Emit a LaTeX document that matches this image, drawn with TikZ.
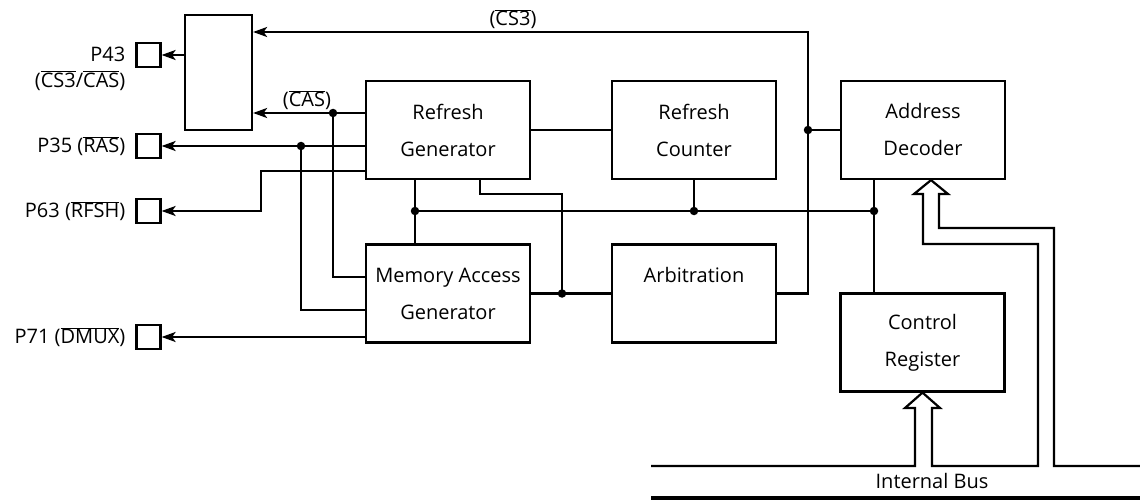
\documentclass[tikz,border=0pt]{standalone}
\usepackage{fontspec}
\setmainfont{Open Sans}
\usetikzlibrary{arrows.meta}
\newcommand{\barsig}[1]{$\overline{\mbox{#1}}$}

\begin{document}
\begin{tikzpicture}[x=1pt,y=-1pt,>={Stealth[length=14pt,width=10pt,inset=3.5pt]},line width=2.2pt,
  blk/.style={draw,minimum width=164pt,minimum height=98pt,align=center,inner sep=0pt,font=\fontsize{20}{37}\selectfont},
  pin/.style={draw,minimum size=24pt,inner sep=0pt},
  lbl/.style={inner sep=0pt,font=\fontsize{20}{26}\selectfont},
  dot/.style={circle,fill,inner sep=0pt,minimum size=8.5pt}]
\useasboundingbox (0,0) rectangle (1140,500);
\node[draw,minimum width=67pt,minimum height=115pt] (mux) at (218.5,72.5) {};
\node[blk] (rg) at (448,130) {Refresh\\Generator};
\node[blk] (rc) at (694,130) {Refresh\\Counter};
\node[blk] (ad) at (923,130) {Address\\Decoder};
\node[blk] (mag) at (448,293.5) {Memory Access\\Generator};
\node[blk] (arb) at (694,293.5) {Arbitration\\~};
\node[blk] (cr) at (922.5,342.5) {Control\\Register};
\node[pin] (p43) at (148.5,55) {}; \node[pin] (p35) at (148.5,146) {};
\node[pin] (p63) at (148.5,211) {}; \node[pin] (p71) at (148.5,337) {};
\node[lbl,align=right,anchor=north east] (l43) at ([xshift=-9pt,yshift=9pt]p43.west) {P43\\(\barsig{CS3}/\barsig{CAS})};
\node[lbl,anchor=east] (l35) at ([xshift=-9pt]p35.west) {P35 (\barsig{RAS})};
\node[lbl,anchor=east] (l63) at ([xshift=-9pt]p63.west) {P63 (\barsig{RFSH})};
\node[lbl,anchor=east] (l71) at ([xshift=-9pt]p71.west) {P71 (\barsig{DMUX})};
\coordinate (cstop) at (808,32); \coordinate (jcs) at (808,130);
\coordinate (jcas) at (333,113); \coordinate (jras) at (301,146);
\coordinate (brf) at (261,171); \coordinate (brg) at (480,194);
\coordinate (jrf) at (415,211); \coordinate (jrc) at (694,211);
\coordinate (jcr) at (874,211); \coordinate (jarb) at (562,293.5);
\draw[->] (arb.east) -| (cstop) -- (mux.east |- cstop);
\node[lbl] (lcs) at (513,19) {(\barsig{CS3})};
\draw (jcs) -- (ad.west);
\draw[->] (rg.west |- jcas) -- (mux.east |- jcas);
\node[lbl] (lcas) at (307,100) {(\barsig{CAS})};
\draw (jcas) |- (mag.west |- 0,277);
\draw[->] (rg.west |- jras) -- (p35.east);
\draw (jras) |- (mag.west |- 0,310);
\draw[->] (rg.west |- brf) -- (brf) |- (p63.east);
\draw[->] (mag.west |- p71.east) -- (p71.east);
\draw[->] (mux.west |- p43.east) -- (p43.east);
\draw (rg.east) -- (rc.west);
\draw (rg.south -| jrf) -- (mag.north -| jrf);
\draw (jrf) -- (jcr);
\draw (rc.south -| jrc) -- (jrc);
\draw (ad.south -| jcr) -- (cr.north -| jcr);
\draw (rg.south -| brg) |- (jarb |- brg) -- (jarb);
\draw (mag.east) -- (arb.west);
\foreach \j in {jcs,jcas,jras,jrf,jrc,jcr,jarb} \node[dot] at (\j) {};
\coordinate (tad) at ([xshift=8pt]ad.south);
\draw (651,466) -- (915,466) -- (915,408) -- (905,408) -- (cr.south) -- (940,408) -- (932,408) -- (932,466)
  -- (1038,466) -- (1038,244) -- (923,244) -- (923,194) -- (914,194) -- (tad) -- (948,194) -- (939,194)
  -- (939,228) -- (1054,228) -- (1054,466) -- (1140,466);
\draw[line width=3.2pt] (651,498) -- (1140,498);
\node[lbl] (ib) at (932,481) {Internal Bus};
\end{tikzpicture}
\end{document}
